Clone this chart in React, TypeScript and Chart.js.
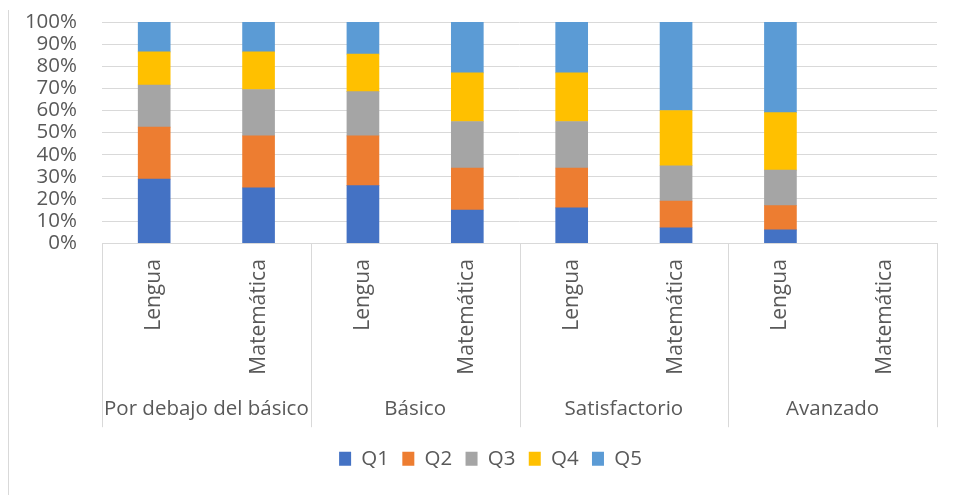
import React, { useEffect, useRef } from "react";
import { Chart, registerables } from "chart.js";

Chart.register(...registerables);

const subjects = ["Lengua", "Matemática", "Lengua", "Matemática", "Lengua", "Matemática", "Lengua", "Matemática"];
const groups = ["Por debajo del básico", "Básico", "Satisfactorio", "Avanzado"];
const seriesNames = ["Q1", "Q2", "Q3", "Q4", "Q5"];
const q1 = [29, 25, 26, 15, 16, 7, 6, null];
const q2 = [23.5, 23.5, 22.5, 19, 18, 12, 11, null];
const q3 = [19, 21, 20, 21, 21, 16, 16, null];
const q4 = [15, 17, 17, 22, 22, 25, 26, null];
const q5 = [13.5, 13.5, 14.5, 23, 23, 40, 41, null];
const seriesValues = [q1, q2, q3, q4, q5];
const seriesColors = ["#4472C4", "#ED7D31", "#A5A5A5", "#FFC000", "#5B9BD5"];

const FONT = "'Open Sans', 'Noto Sans', sans-serif";
const TEXT = "#595959";
const LINE = "#d9d9d9";
const FS = 20.5;
const ROT_FS = 21;
const AXIS_BOX = 184;

const axisPlugin = {
  id: "multiLevelAxis",
  afterLayout(chart: any) {
    if (chart.legend) {
      chart.legend.left += 22;
      chart.legend.right += 22;
    }
  },
  beforeDraw(chart: any) {
    const ctx = chart.ctx;
    ctx.save();
    ctx.strokeStyle = LINE;
    ctx.lineWidth = 1;
    ctx.beginPath();
    ctx.moveTo(8.5, 10);
    ctx.lineTo(8.5, chart.height);
    ctx.stroke();
    ctx.restore();
  },
  afterDraw(chart: any) {
    const ctx = chart.ctx;
    const x = chart.scales.x;
    const area = chart.chartArea;
    const top = area.bottom;
    const bottom = area.bottom + AXIS_BOX;
    ctx.save();
    ctx.fillStyle = TEXT;
    ctx.font = `${ROT_FS}px ${FONT}`;
    subjects.forEach((s, i) => {
      const px = x.getPixelForValue(i);
      ctx.save();
      ctx.translate(px, top + 16);
      ctx.rotate(-Math.PI / 2);
      ctx.textAlign = "right";
      ctx.textBaseline = "middle";
      ctx.fillText(s, 0, 0);
      ctx.restore();
    });
    ctx.font = `${FS}px ${FONT}`;
    ctx.textAlign = "center";
    ctx.textBaseline = "middle";
    groups.forEach((g, gi) => {
      const a = x.getPixelForValue(gi * 2);
      const b = x.getPixelForValue(gi * 2 + 1);
      ctx.fillText(g, (a + b) / 2, top + 166);
    });
    ctx.strokeStyle = LINE;
    ctx.lineWidth = 1;
    const bounds: number[] = [x.left];
    for (let gi = 0; gi < groups.length - 1; gi++) {
      bounds.push((x.getPixelForValue(gi * 2 + 1) + x.getPixelForValue(gi * 2 + 2)) / 2);
    }
    bounds.push(x.right);
    ctx.beginPath();
    bounds.forEach((bx) => {
      const xx = Math.round(bx) + 0.5;
      ctx.moveTo(xx, top);
      ctx.lineTo(xx, bottom);
    });
    ctx.stroke();
    ctx.restore();
  },
};

export default function App() {
  const ref = useRef<HTMLCanvasElement | null>(null);
  useEffect(() => {
    if (!ref.current) return;
    const chart = new Chart(ref.current, {
      type: "bar",
      data: {
        labels: subjects,
        datasets: seriesNames.map((n, i) => ({
          label: n,
          data: seriesValues[i],
          backgroundColor: seriesColors[i],
          borderWidth: 0,
          barThickness: 32,
        })),
      },
      options: {
        animation: false,
        responsive: true,
        maintainAspectRatio: false,
        layout: { padding: { left: 0, right: 17, top: 22, bottom: 16 } },
        plugins: {
          legend: {
            position: "bottom",
            labels: {
              boxWidth: 12,
              boxHeight: 14,
              padding: 13.3,
              color: TEXT,
              font: { family: FONT, size: FS },
            },
          },
          tooltip: { enabled: false },
        },
        scales: {
          x: {
            stacked: true,
            grid: { display: false },
            border: { display: true, color: LINE },
            ticks: { display: false },
            afterFit: (s: any) => {
              s.height = 192;
            },
          },
          y: {
            stacked: true,
            min: 0,
            max: 100,
            ticks: {
              stepSize: 10,
              autoSkip: false,
              callback: (v: any) => v + "%",
              color: TEXT,
              font: { family: FONT, size: FS },
              padding: 0,
            },
            grid: { color: LINE, drawTicks: true, tickLength: 25, tickColor: "rgba(0,0,0,0)" },
            border: { display: false },
            afterFit: (s: any) => {
              s.width = 102;
            },
          },
        },
      },
      plugins: [axisPlugin],
    });
    return () => chart.destroy();
  }, []);
  return (
    <div style={{ position: "fixed", left: 0, top: 0, width: 954, height: 495, background: "#fff" }}>
      <canvas ref={ref} />
    </div>
  );
}
